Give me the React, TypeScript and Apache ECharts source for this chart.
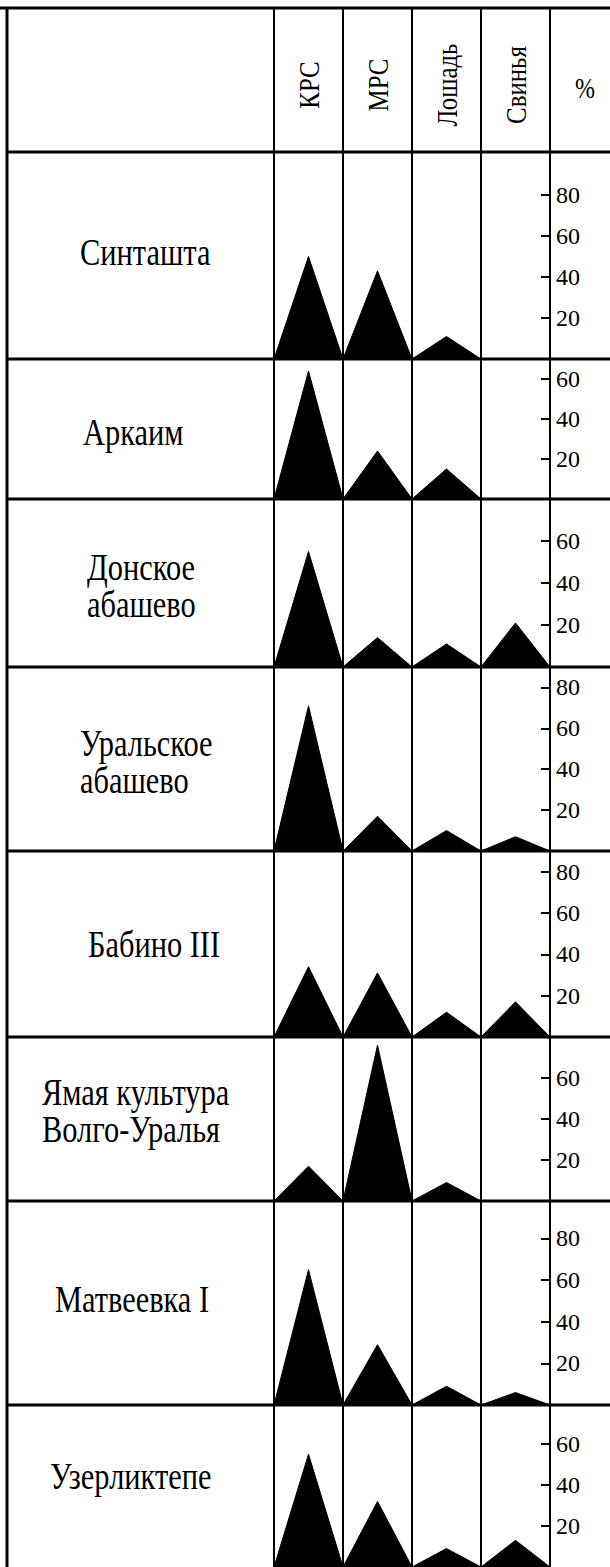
import React, { useEffect, useRef } from "react";
import * as echarts from "echarts";

// ---- data ----
const categories = ["КРС", "МРС", "Лошадь", "Свинья"];
const unitLabel = "%";
const sites = [
  "Синташта",
  "Аркаим",
  "Донское\nабашево",
  "Уральское\nабашево",
  "Бабино III",
  "Ямая культура\nВолго-Уралья",
  "Матвеевка I",
  "Узерликтепе",
];
const krs = [50, 64, 55, 71, 34, 17, 65, 55];
const mrs = [43, 24, 14, 17, 31, 76, 29, 32];
const horse = [11, 15, 11, 10, 12, 9, 9, 9];
const pig = [0, 0, 21, 7, 17, 0, 6, 13];
const tickLabels = [
  [20, 40, 60, 80],
  [20, 40, 60],
  [20, 40, 60],
  [20, 40, 60, 80],
  [20, 40, 60, 80],
  [20, 40, 60],
  [20, 40, 60, 80],
  [20, 40, 60],
];
const axisMax = [101, 70, 80, 90, 90, 80, 98, 79];

// ---- layout ----
const W = 610;
const H = 1567;
const HEADER_TOP = 8;
const ROW_EDGES = [152, 359, 499, 667, 851, 1037, 1201, 1405, 1568];
const TABLE_LEFT = 7;
const COL_LEFT = 274;
const COL_RIGHT = 550;
const LABEL_LEFT = [80, 83, 87, 80, 88, 42, 55, 50];
const LABEL_CY = [252, 432, 585, 761, 944, 1110, 1299, 1476];
const FONT = "'Liberation Serif', 'Times New Roman', serif";

function buildOption() {
  const nCat = categories.length;
  const colW = (COL_RIGHT - COL_LEFT) / nCat;
  const grids: any[] = [];
  const xAxes: any[] = [];
  const yAxes: any[] = [];
  const series: any[] = [];

  const hiddenX = (g: number) => ({ gridIndex: g, type: "value", show: false, min: 0, max: 1 });

  // header grid (column separators only)
  grids.push({ left: COL_LEFT, width: COL_RIGHT - COL_LEFT, top: HEADER_TOP, height: ROW_EDGES[0] - HEADER_TOP });
  xAxes.push({
    gridIndex: 0, type: "value", min: 0, max: nCat, interval: 1,
    axisLine: { show: false }, axisTick: { show: false }, axisLabel: { show: false },
    splitLine: { show: true, lineStyle: { color: "#000", width: 2 } },
  });
  yAxes.push({ gridIndex: 0, type: "value", show: false });

  sites.forEach((_, i) => {
    const top = ROW_EDGES[i];
    const height = ROW_EDGES[i + 1] - ROW_EDGES[i];
    // data grid
    const g = grids.length;
    grids.push({ left: COL_LEFT, width: COL_RIGHT - COL_LEFT, top, height });
    xAxes.push({
      gridIndex: g, type: "value", min: 0, max: nCat, interval: 1,
      axisLine: { show: false }, axisTick: { show: false }, axisLabel: { show: false },
      splitLine: { show: true, lineStyle: { color: "#000", width: 2 } },
    });
    yAxes.push({ gridIndex: g, type: "value", min: 0, max: axisMax[i], show: false });
    const vals = [krs[i], mrs[i], horse[i], pig[i]];
    const pts: number[][] = [[0, 0]];
    vals.forEach((v, c) => {
      pts.push([c + 0.5, v]);
      pts.push([c + 1, 0]);
    });
    series.push({
      type: "line", xAxisIndex: g, yAxisIndex: g, data: pts,
      symbol: "none", silent: true,
      lineStyle: { color: "#000", width: 1 },
      areaStyle: { color: "#000", opacity: 1 },
      z: 3,
    });
    // scale grid (same vertical extent) holding the % axis
    const s = grids.length;
    grids.push({ left: COL_RIGHT, width: 10, top, height });
    xAxes.push(hiddenX(s));
    yAxes.push({
      gridIndex: s, type: "value", position: "left", min: 0, max: axisMax[i],
      axisLine: { show: true, lineStyle: { color: "#000", width: 2 } },
      axisTick: {
        show: true, inside: false, length: 9, customValues: tickLabels[i],
        lineStyle: { color: "#000", width: 2 },
      },
      axisLabel: {
        show: true, inside: true, customValues: tickLabels[i], margin: 6,
        color: "#000", fontSize: 24, fontFamily: FONT,
      },
      splitLine: { show: false },
    });
  });

  const graphics: any[] = [];
  // table lines
  graphics.push({ type: "line", z: 100, shape: { x1: 0, y1: HEADER_TOP, x2: W, y2: HEADER_TOP }, style: { stroke: "#000", lineWidth: 3 } });
  graphics.push({ type: "line", z: 100, shape: { x1: TABLE_LEFT, y1: HEADER_TOP, x2: TABLE_LEFT, y2: H }, style: { stroke: "#000", lineWidth: 3 } });
  graphics.push({ type: "line", z: 100, shape: { x1: COL_LEFT, y1: HEADER_TOP, x2: COL_LEFT, y2: ROW_EDGES[0] }, style: { stroke: "#000", lineWidth: 2 } });
  ROW_EDGES.slice(0, -1).forEach((y) => {
    graphics.push({ type: "line", z: 100, shape: { x1: TABLE_LEFT, y1: y, x2: W, y2: y }, style: { stroke: "#000", lineWidth: 3 } });
  });
  // header texts
  categories.forEach((c, k) => {
    graphics.push({
      type: "text", z: 101, x: COL_LEFT + (k + 0.5) * colW, y: 85,
      rotation: Math.PI / 2, scaleX: 0.83,
      style: {
        text: c, fill: "#000", fontSize: 30, fontFamily: FONT,
        align: "center", verticalAlign: "middle", textAlign: "center", textVerticalAlign: "middle",
      },
    });
  });
  graphics.push({
    type: "text", z: 101, x: 585, y: 88, scaleX: 0.8,
    style: {
      text: unitLabel, fill: "#000", fontSize: 30, fontFamily: FONT,
      align: "center", verticalAlign: "middle", textAlign: "center", textVerticalAlign: "middle",
    },
  });
  // row labels
  sites.forEach((s, i) => {
    graphics.push({
      type: "text", z: 101, x: LABEL_LEFT[i], y: LABEL_CY[i], scaleX: 0.8,
      style: {
        text: s, fill: "#000", fontSize: 38, fontFamily: FONT, lineHeight: 37,
        align: "left", verticalAlign: "middle", textAlign: "left", textVerticalAlign: "middle",
      },
    });
  });

  return {
    animation: false,
    backgroundColor: "#fff",
    grid: grids,
    xAxis: xAxes,
    yAxis: yAxes,
    series,
    graphic: { elements: graphics },
  };
}

export default function App() {
  const ref = useRef<HTMLDivElement>(null);
  useEffect(() => {
    if (!ref.current) return;
    const chart = echarts.init(ref.current, undefined, { renderer: "svg" });
    chart.setOption(buildOption());
    return () => chart.dispose();
  }, []);
  return (
    <div
      ref={ref}
      style={{ position: "absolute", left: 0, top: 0, width: W, height: H, background: "#fff" }}
    />
  );
}
